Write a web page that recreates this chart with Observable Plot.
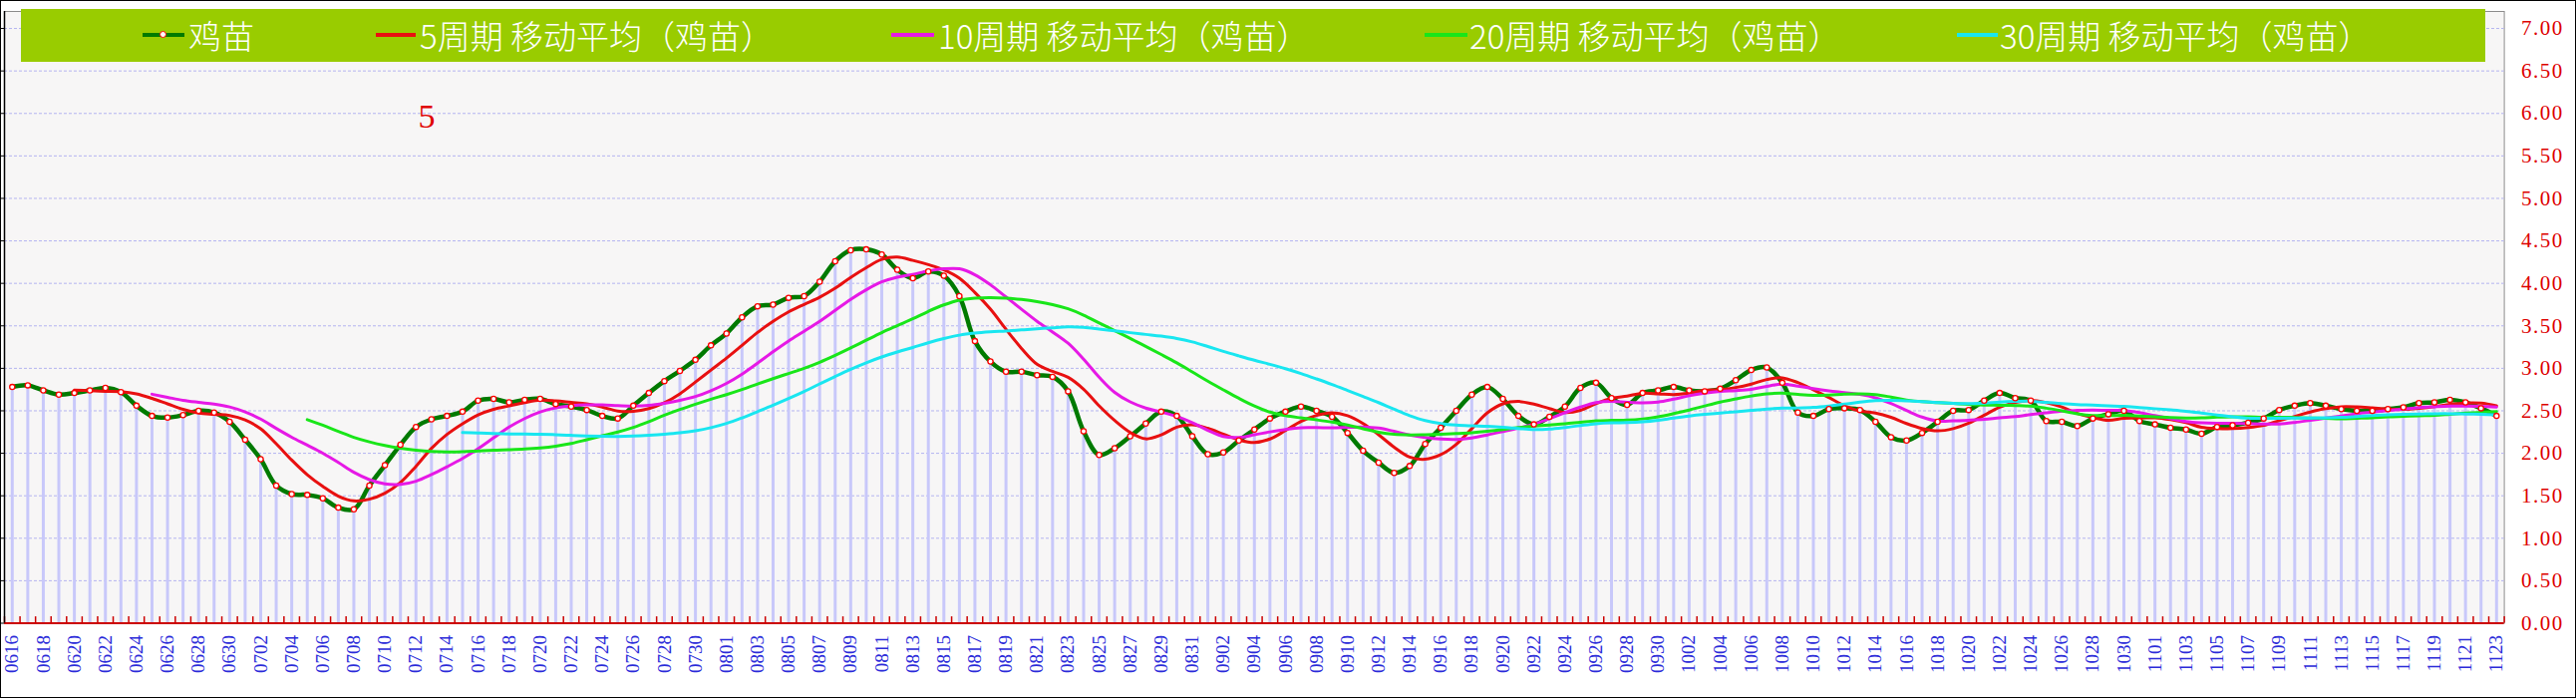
<!DOCTYPE html>
<html><head><meta charset="utf-8">
<script src="https://cdn.jsdelivr.net/npm/d3@7"></script>
<script src="https://cdn.jsdelivr.net/npm/@observablehq/plot@0.6"></script>
<style>
html,body{margin:0;padding:0;background:#fff;}
#wrap{position:relative;width:2584px;height:700px;border:1px solid #000;box-sizing:border-box;background:#fff;overflow:hidden;}
#chart{position:absolute;left:0;top:0;}
#legend{position:absolute;left:20px;top:8px;width:2472px;height:53px;background:#99cc00;}
.sw{position:absolute;top:24px;height:4px;}
.mk{position:absolute;top:22px;width:5px;height:5px;border:1.5px solid #ff0000;border-radius:50%;background:#fff;}
.lbl{position:absolute;top:0;line-height:53px;color:#fff;font-family:"Noto Sans CJK SC";font-weight:300;font-size:33px;white-space:nowrap;}
</style></head>
<body><div id="wrap"><div id="chart"></div><div id="legend"></div></div>
<script>
// ---------- data ----------
const dates = [
"0616","0617","0618","0619","0620","0621","0622","0623","0624","0625","0626","0627","0628","0629","0630",
"0701","0702","0703","0704","0705","0706","0707","0708","0709","0710","0711","0712","0713","0714","0715","0716","0717","0718","0719","0720","0721","0722","0723","0724","0725","0726","0727","0728","0729","0730","0731",
"0801","0802","0803","0804","0805","0806","0807","0808","0809","0810","0811","0812","0813","0814","0815","0816","0817","0818","0819","0820","0821","0822","0823","0824","0825","0826","0827","0828","0829","0830","0831",
"0901","0902","0903","0904","0905","0906","0907","0908","0909","0910","0911","0912","0913","0914","0915","0916","0917","0918","0919","0920","0921","0922","0923","0924","0925","0926","0927","0928","0929","0930",
"1001","1002","1003","1004","1005","1006","1007","1008","1009","1010","1011","1012","1013","1014","1015","1016","1017","1018","1019","1020","1021","1022","1023","1024","1025","1026","1027","1028","1029","1030","1031",
"1101","1102","1103","1104","1105","1106","1107","1108","1109","1110","1111","1112","1113","1114","1115","1116","1117","1118","1119","1120","1121","1122","1123"];
const prices = [
2.78,2.80,2.74,2.69,2.71,2.74,2.77,2.72,2.56,2.44,2.42,2.45,2.50,2.48,2.37,
2.16,1.93,1.62,1.52,1.51,1.47,1.36,1.34,1.62,1.86,2.10,2.31,2.40,2.44,2.49,2.62,2.64,2.60,2.63,2.64,2.58,2.55,2.51,2.44,2.41,2.56,2.71,2.85,2.97,3.10,3.27,
3.41,3.60,3.73,3.75,3.83,3.85,4.02,4.26,4.39,4.40,4.34,4.16,4.06,4.14,4.09,3.85,3.32,3.08,2.96,2.96,2.92,2.90,2.73,2.26,1.98,2.06,2.20,2.35,2.49,2.44,2.20,
1.99,2.01,2.15,2.28,2.41,2.49,2.55,2.50,2.43,2.24,2.03,1.89,1.77,1.85,2.11,2.30,2.50,2.69,2.78,2.64,2.44,2.34,2.43,2.55,2.77,2.83,2.65,2.57,2.71,2.74,
2.78,2.74,2.73,2.76,2.86,2.98,3.01,2.83,2.48,2.44,2.52,2.53,2.51,2.37,2.19,2.15,2.24,2.37,2.50,2.51,2.62,2.71,2.65,2.62,2.38,2.37,2.32,2.41,2.46,2.50,2.38,
2.34,2.30,2.28,2.23,2.31,2.33,2.36,2.41,2.51,2.56,2.59,2.56,2.52,2.50,2.50,2.52,2.54,2.59,2.60,2.63,2.60,2.53,2.44];
const maPeriods = [5, 10, 20, 30];
const seriesNames = ["鸡苗", "5周期 移动平均（鸡苗）", "10周期 移动平均（鸡苗）", "20周期 移动平均（鸡苗）", "30周期 移动平均（鸡苗）"];
const annotation = ["5"];

// ---------- styles ----------
const mainColor = "#007a00";
const maColors = ["#e81010", "#e619e6", "#19e619", "#19e6f0"];

const rows = prices.map((v, i) => ({i, date: dates[i], v}));
const yTicks = d3.range(0, 7.001, 0.5);
const labelIdx = d3.range(0, dates.length, 2);
const bounds = d3.range(-0.5, dates.length, 1);

const chart = Plot.plot({
  width: 2582, height: 698,
  marginLeft: 3, marginRight: 71.4, marginTop: 10, marginBottom: 74.5,
  x: {type: "linear", domain: [-0.5, dates.length - 0.5], axis: null},
  y: {domain: [0, 7.2], axis: null},
  style: {background: "transparent", overflow: "visible"},
  marks: [
    Plot.frame({fill: "#f7f6f6", stroke: "#8c8c8c"}),
    Plot.ruleY(yTicks.slice(1), {stroke: "#b4b4f0", strokeDasharray: "3,2", strokeWidth: 1}),
    Plot.ruleX(rows, {x: "i", y1: 0, y2: "v", stroke: "#c8c8fa", strokeWidth: 3}),
    Plot.ruleX(bounds, {x: d => d, y1: 0, y2: 0.075, stroke: "#cc0000", strokeWidth: 1.5}),
    Plot.ruleY([0], {stroke: "#cc0000", strokeWidth: 2}),
    Plot.ruleX([-0.5], {stroke: "#000", strokeWidth: 1.5}),
    Plot.axisY({anchor: "left", ticks: yTicks, tickSize: 3, tickFormat: () => "", stroke: "#000", label: null}),
    Plot.axisY({anchor: "right", ticks: yTicks, tickSize: 0, tickPadding: 17, tickFormat: d3.format(".2f"),
      fill: "#dd0000", fontSize: 21, fontFamily: "Liberation Serif", label: null}),
    Plot.axisX({anchor: "bottom", ticks: labelIdx, tickFormat: i => dates[i], tickRotate: -90, tickSize: 0, tickPadding: 12,
      fill: "#2b2bd9", fontSize: 19, fontFamily: "Liberation Serif", label: null}),
    Plot.line(rows, {x: "i", y: "v", stroke: mainColor, strokeWidth: 4.5, curve: "catmull-rom"}),
    ...maPeriods.map((k, j) => Plot.line(rows, Plot.windowY({k, anchor: "end", reduce: "mean", strict: true},
      {x: "i", y: "v", stroke: maColors[j], strokeWidth: 3, curve: "catmull-rom"}))),
    Plot.dot(rows, {x: "i", y: "v", r: 2.6, fill: "#fff", stroke: "#ff0000", strokeWidth: 1.3}),
    Plot.text(annotation, {text: d => d, frameAnchor: "top-left", dx: 415, dy: 92, fill: "#e00000",
      fontSize: 34, fontFamily: "Liberation Serif"})
  ]
});
d3.select(chart).selectAll('g[aria-label="y-axis tick label"] text').style("letter-spacing", "1.5px");
document.getElementById("chart").appendChild(chart);

// ---------- legend (overlay) ----------
const legendPos = [[122, 42, 168], [356, 40, 400], [873, 43, 920], [1408, 43, 1453], [1942, 41, 1985]];
const legendColors = [mainColor, ...maColors];
const lg = document.getElementById("legend");
seriesNames.forEach((name, j) => {
  const [sx, sw, tx] = legendPos[j];
  const s = document.createElement("div");
  s.className = "sw"; s.style.left = sx + "px"; s.style.width = sw + "px"; s.style.background = legendColors[j];
  lg.appendChild(s);
  if (j === 0) {
    const m = document.createElement("div");
    m.className = "mk"; m.style.left = (sx + sw / 2 - 4) + "px";
    lg.appendChild(m);
  }
  const t = document.createElement("div");
  t.className = "lbl"; t.style.left = tx + "px"; t.textContent = name;
  lg.appendChild(t);
});
</script></body></html>
